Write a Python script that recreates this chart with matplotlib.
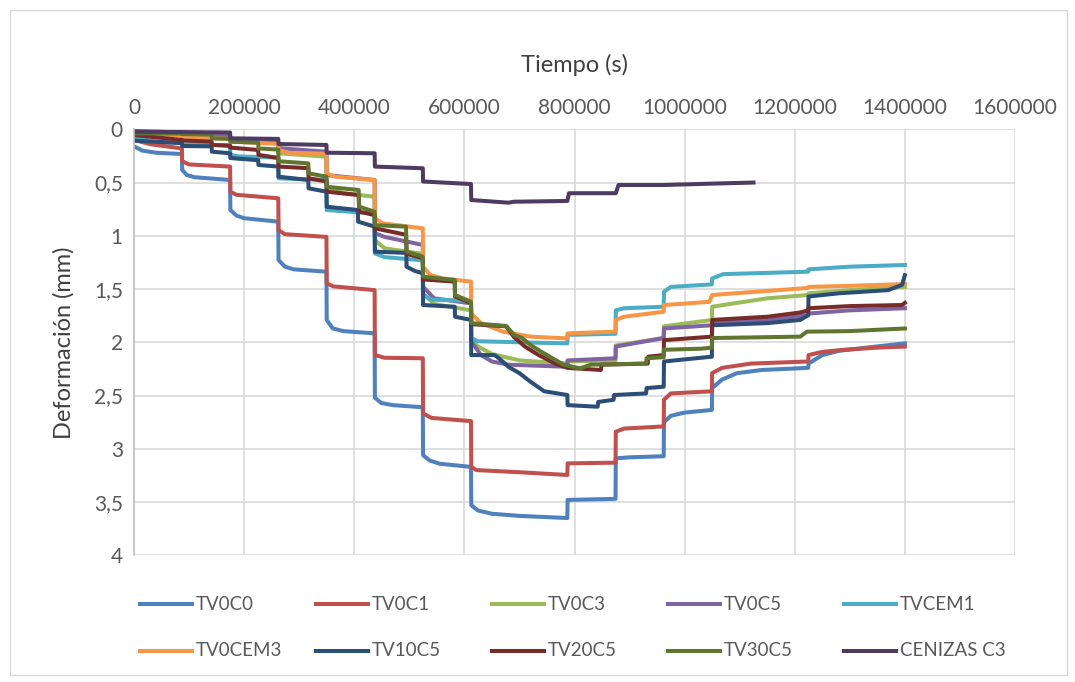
import matplotlib
matplotlib.use("Agg")
import matplotlib.pyplot as plt
from matplotlib.lines import Line2D
from matplotlib.patches import Rectangle
from matplotlib.ticker import FuncFormatter

plt.rcParams['font.family'] = ['Lato', 'DejaVu Sans']

# tiempos (s) y deformaciones (mm) de cada ensayo
t_tv0c0 = [0, 15000, 40000, 87000, 87500, 96000, 110000, 174500, 175000, 186000, 200000, 262000,
           262500, 274000, 290000, 349500, 350000, 361000, 380000, 437000, 437500, 449000, 470000, 524500,
           525000, 537000, 555000, 612000, 612500, 625000, 650000, 700000, 787000, 787500, 874500,
           875000, 900000, 962000, 962500, 975000, 1000000, 1049500, 1050000, 1068000, 1095000, 1140000,
           1224500, 1225000, 1250000, 1280000, 1330000, 1400000]
d_tv0c0 = [0.16, 0.20, 0.22, 0.232, 0.38, 0.43, 0.45, 0.476, 0.757, 0.81, 0.835, 0.867,
           1.227, 1.29, 1.315, 1.337, 1.79, 1.87, 1.895, 1.916, 2.52, 2.57, 2.59, 2.61,
           3.06, 3.11, 3.14, 3.17, 3.53, 3.58, 3.61, 3.63, 3.65, 3.48, 3.47,
           3.09, 3.08, 3.07, 2.75, 2.69, 2.66, 2.635, 2.43, 2.35, 2.29, 2.26,
           2.24, 2.20, 2.12, 2.08, 2.05, 2.01]

t_tv0c1 = [0, 30000, 87000, 87500, 100000, 174500, 175000, 186000, 262000, 262500, 274000, 349500,
           350000, 362000, 437000, 437500, 455000, 524500, 525000, 540000, 612000, 612500, 622000, 700000,
           787000, 787500, 874500, 875000, 890000, 962000, 962500, 975000, 1049500, 1050000, 1068000,
           1120000, 1224500, 1225000, 1250000, 1290000, 1350000, 1400000]
d_tv0c1 = [0.10, 0.14, 0.18, 0.30, 0.33, 0.35, 0.586, 0.615, 0.648, 0.946, 0.985, 1.01,
           1.446, 1.475, 1.51, 2.12, 2.145, 2.15, 2.667, 2.71, 2.74, 3.17, 3.20, 3.22,
           3.246, 3.137, 3.13, 2.84, 2.81, 2.79, 2.54, 2.48, 2.46, 2.29, 2.24,
           2.20, 2.18, 2.12, 2.09, 2.07, 2.05, 2.04]

t_tv0c3 = [0, 87000, 87500, 174500, 175000, 262000, 262500, 349500, 350000, 380000, 437000,
           437500, 455000, 524500, 525000, 545000, 612000, 612500, 625000, 650000, 700000, 787000,
           787500, 874500, 875000, 962000, 962500, 1049500, 1050000, 1090000, 1150000, 1224500,
           1225000, 1300000, 1400000]
d_tv0c3 = [0.02, 0.04, 0.05, 0.07, 0.10, 0.12, 0.225, 0.257, 0.54, 0.60, 0.633,
           1.04, 1.117, 1.17, 1.54, 1.64, 1.70, 1.98, 2.04, 2.11, 2.17, 2.20,
           2.18, 2.17, 2.03, 1.96, 1.85, 1.79, 1.666, 1.634, 1.587, 1.556,
           1.54, 1.51, 1.48]

t_tv0c5 = [0, 87000, 87500, 174500, 175000, 262000, 262500, 349500, 350000, 437000,
           437500, 455000, 524500, 525000, 545000, 612000, 612500, 630000, 650000, 680000, 787000,
           787500, 874500, 875000, 962000, 962500, 1049500, 1050000, 1150000, 1224500,
           1225000, 1300000, 1400000]
d_tv0c5 = [0.016, 0.03, 0.05, 0.055, 0.10, 0.12, 0.177, 0.21, 0.43, 0.476,
           0.976, 1.01, 1.086, 1.478, 1.587, 1.634, 1.99, 2.12, 2.18, 2.21, 2.23,
           2.17, 2.15, 2.04, 1.96, 1.87, 1.84, 1.82, 1.79, 1.745,
           1.73, 1.70, 1.68]

t_tvcem1 = [0, 30000, 87000, 87500, 174500, 175000, 190000, 262000, 262500, 349500, 350000, 437000,
            437500, 455000, 524500, 525000, 540000, 612000, 612500, 625000, 700000, 787000,
            787500, 874500, 875000, 890000, 962000, 962500, 975000, 1049500, 1050000, 1070000,
            1224500, 1225000, 1300000, 1400000]
d_tvcem1 = [0.07, 0.11, 0.13, 0.14, 0.15, 0.24, 0.255, 0.265, 0.46, 0.476, 0.758, 0.79,
            1.165, 1.20, 1.23, 1.556, 1.60, 1.61, 1.96, 1.99, 2.00, 2.01,
            1.93, 1.92, 1.70, 1.68, 1.666, 1.525, 1.48, 1.456, 1.40, 1.36,
            1.337, 1.315, 1.29, 1.274]

t_tv0cem3 = [0, 87000, 87500, 174500, 175000, 262000, 262500, 280000, 349500, 350000, 365000, 437000,
             437500, 452000, 524500, 525000, 538000, 560000, 612000, 612500, 630000, 670000, 720000,
             787000, 787500, 874500, 875000, 890000, 962000, 962500, 1045000, 1050000, 1130000,
             1224500, 1225000, 1300000, 1400000]
d_tv0cem3 = [0.03, 0.06, 0.07, 0.09, 0.115, 0.138, 0.194, 0.22, 0.23, 0.413, 0.445, 0.476,
             0.836, 0.883, 0.93, 1.29, 1.368, 1.40, 1.43, 1.728, 1.82, 1.90, 1.947,
             1.963, 1.916, 1.90, 1.79, 1.76, 1.713, 1.65, 1.62, 1.556, 1.525,
             1.49, 1.48, 1.47, 1.453]

t_tv10c5 = [0, 87000, 87500, 141000, 141500, 174500, 175000, 225500, 226000, 262000, 262500, 316500,
            317000, 349500, 350000, 406500, 407000, 437000, 437500, 494500, 495000, 510000, 524500,
            525000, 582500, 583000, 612000, 612500, 655000, 665000, 680000, 700000, 720000, 745000,
            787000, 787500, 842000, 843000, 871000, 872000, 930000, 931000, 962000, 962500, 1049500,
            1050000, 1150000, 1210000, 1224500, 1225000, 1280000, 1370000, 1395000, 1400000]
d_tv10c5 = [0.107, 0.13, 0.157, 0.16, 0.21, 0.225, 0.27, 0.29, 0.335, 0.35, 0.445, 0.476,
            0.554, 0.586, 0.727, 0.758, 0.867, 0.914, 1.149, 1.16, 1.29, 1.33, 1.352,
            1.65, 1.666, 1.76, 1.79, 2.12, 2.12, 2.16, 2.23, 2.29, 2.37, 2.46,
            2.495, 2.59, 2.605, 2.56, 2.54, 2.495, 2.48, 2.43, 2.417, 2.18, 2.135,
            1.84, 1.82, 1.79, 1.745, 1.57, 1.54, 1.51, 1.46, 1.37]

t_tv20c5 = [0, 87000, 87500, 141000, 141500, 174500, 175000, 225500, 226000, 262000, 262500, 316500,
            317000, 349500, 350000, 408000, 409000, 437000, 437500, 494000, 495000, 524500,
            525000, 582500, 583000, 612000, 612500, 676000, 690000, 710000, 735000, 765000, 787000,
            848000, 849000, 933000, 934000, 962000, 962500, 1049500, 1050000, 1150000, 1210000,
            1224500, 1225000, 1300000, 1395000, 1400000]
d_tv20c5 = [0.054, 0.10, 0.105, 0.115, 0.147, 0.155, 0.172, 0.194, 0.24, 0.27, 0.35, 0.365,
            0.46, 0.49, 0.586, 0.617, 0.774, 0.805, 0.93, 0.99, 1.17, 1.21,
            1.41, 1.43, 1.57, 1.63, 1.83, 1.85, 1.95, 2.04, 2.12, 2.20, 2.24,
            2.26, 2.21, 2.20, 2.135, 2.12, 1.98, 1.947, 1.79, 1.76, 1.72,
            1.70, 1.68, 1.66, 1.65, 1.63]

t_tv30c5 = [0, 87000, 87500, 141000, 141500, 174500, 175000, 225500, 226000, 262000, 262500, 316500,
            317000, 349500, 350000, 408000, 409000, 437000, 437500, 494000, 495000, 524500,
            525000, 582500, 583000, 612000, 612500, 676000, 690000, 705000, 720000, 740000, 765000,
            780000, 810000, 830000, 930000, 931000, 962000, 962500, 1030000, 1049500,
            1050000, 1210000, 1222000, 1300000, 1400000]
d_tv30c5 = [0.038, 0.04, 0.045, 0.05, 0.085, 0.09, 0.116, 0.125, 0.18, 0.19, 0.30, 0.32,
            0.413, 0.445, 0.54, 0.57, 0.727, 0.774, 0.90, 0.914, 1.149, 1.196,
            1.384, 1.415, 1.556, 1.62, 1.82, 1.847, 1.93, 1.96, 2.025, 2.09, 2.165,
            2.21, 2.245, 2.21, 2.20, 2.15, 2.14, 2.07, 2.06, 2.05,
            1.96, 1.947, 1.90, 1.895, 1.87]

t_cenizas = [0, 174500, 175000, 262000, 262500, 349500, 350000, 437000, 437500, 524500,
             525000, 612000, 612500, 680000, 690000, 787000, 790000, 875000, 880000, 962000,
             1050000, 1125000]
d_cenizas = [0.022, 0.03, 0.085, 0.09, 0.138, 0.147, 0.22, 0.225, 0.35, 0.366,
             0.49, 0.514, 0.664, 0.689, 0.68, 0.673, 0.60, 0.60, 0.523, 0.523,
             0.51, 0.50]

series = [
    ('TV0C0', t_tv0c0, d_tv0c0, '#4F81BD'),
    ('TV0C1', t_tv0c1, d_tv0c1, '#C0504D'),
    ('TV0C3', t_tv0c3, d_tv0c3, '#9BBB59'),
    ('TV0C5', t_tv0c5, d_tv0c5, '#8064A2'),
    ('TVCEM1', t_tvcem1, d_tvcem1, '#4BACC6'),
    ('TV0CEM3', t_tv0cem3, d_tv0cem3, '#F79646'),
    ('TV10C5', t_tv10c5, d_tv10c5, '#2C4D75'),
    ('TV20C5', t_tv20c5, d_tv20c5, '#772C2A'),
    ('TV30C5', t_tv30c5, d_tv30c5, '#5F7530'),
    ('CENIZAS C3', t_cenizas, d_cenizas, '#4D3B62'),
]

W, H = 1075, 682
fig = plt.figure(figsize=(W/100, H/100), dpi=100)
ax = fig.add_axes([134/W, 1-555.3/H, (1015-134)/W, (555.3-129.3)/H])

for nombre, t, d, color in series:
    ax.plot(t, d, color=color, linewidth=2.9, label=nombre, solid_joinstyle='round')

ax.set_xlim(0, 1600000)
ax.set_ylim(4, 0)
ax.set_xticks(range(0, 1600001, 200000))
ax.xaxis.set_major_formatter(FuncFormatter(lambda v, p: '%d' % v))
ax.set_yticks([0, 0.5, 1, 1.5, 2, 2.5, 3, 3.5, 4])
ax.yaxis.set_major_formatter(FuncFormatter(lambda v, p: ('%g' % v).replace('.', ',')))
ax.xaxis.tick_top()
ax.xaxis.set_label_position('top')
ax.tick_params(length=0, labelsize=15, colors='#595959', pad=8)
ax.set_xlabel('Tiempo (s)', fontsize=17, color='#404040', labelpad=19)
ax.set_ylabel(u'Deformación (mm)', fontsize=17, color='#404040', labelpad=14)

ax.grid(True, color='#D9D9D9', linewidth=1.2)
ax.set_axisbelow(True)
for lado in ['top', 'bottom', 'right']:
    ax.spines[lado].set_visible(False)
ax.spines['left'].set_color('#BFBFBF')
ax.spines['left'].set_linewidth(1.2)

# leyenda en dos filas con columnas de igual ancho
for i, (nombre, t, d, color) in enumerate(series):
    fila, col = divmod(i, 5)
    x0 = 140 + col * 176
    y0 = 604 + fila * 47
    fig.add_artist(Line2D([x0/W, (x0 + 52)/W], [1 - y0/H, 1 - y0/H], transform=fig.transFigure,
                          color=color, linewidth=2.9))
    fig.text((x0 + 56)/W, 1 - y0/H, nombre, fontsize=13.5, color='#595959', va='center', ha='left')

# marco exterior del gráfico
fig.patches.append(Rectangle((10/W, 1-675/H), 1057/W, 665/H, transform=fig.transFigure,
                             fill=False, edgecolor='#D9D9D9', linewidth=1))

fig.savefig('out.png', dpi=100)
